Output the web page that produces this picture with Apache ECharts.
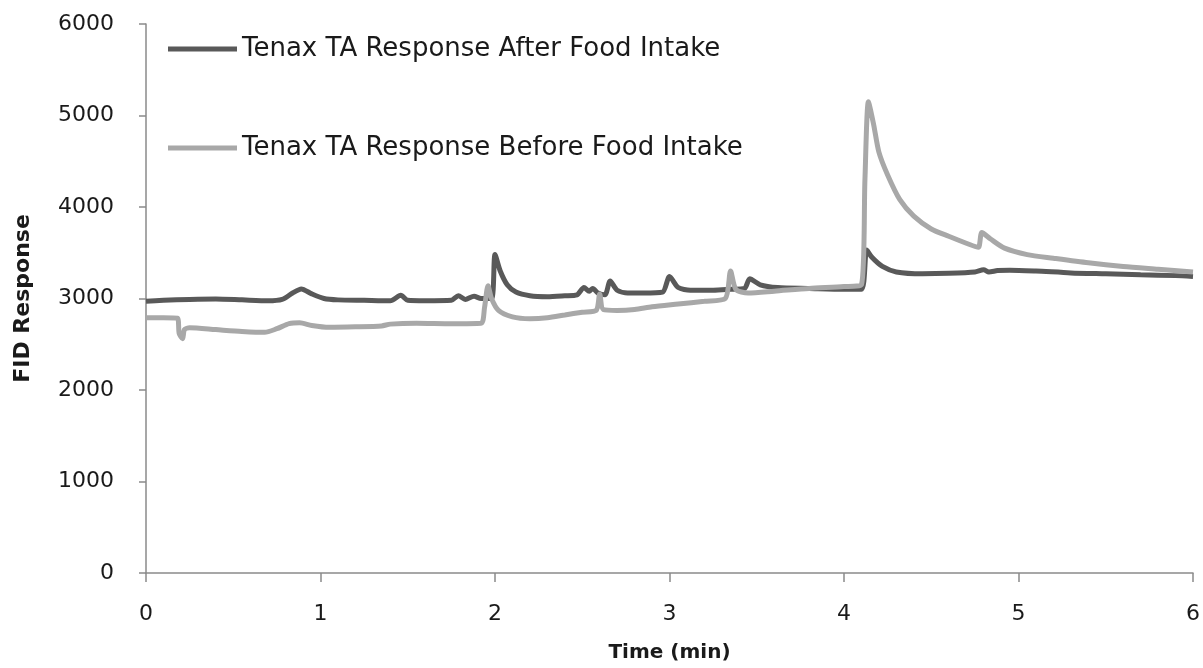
<!DOCTYPE html>
<html>
<head>
<meta charset="utf-8">
<script src="https://cdn.jsdelivr.net/npm/echarts@6/dist/echarts.min.js"></script>
<style>
  html, body { margin: 0; padding: 0; background: #ffffff; }
  #chart { width: 1203px; height: 668px; }
</style>
</head>
<body>
<div id="chart"></div>
<script>
// FID response traces, [time (min), response]
const afterIntake = [
  [0.00, 2970], [0.10, 2980], [0.25, 2990], [0.40, 2995], [0.55, 2985],
  [0.70, 2975], [0.78, 2990], [0.84, 3060], [0.89, 3105], [0.95, 3050],
  [1.02, 3000], [1.10, 2985], [1.25, 2980], [1.40, 2975], [1.46, 3035],
  [1.50, 2980], [1.60, 2975], [1.75, 2980], [1.79, 3030], [1.83, 2990],
  [1.88, 3025], [1.92, 3000], [1.98, 3000], [2.00, 3480], [2.03, 3300],
  [2.07, 3150], [2.12, 3070], [2.20, 3030], [2.30, 3020], [2.40, 3030],
  [2.47, 3040], [2.51, 3120], [2.54, 3080], [2.56, 3110], [2.59, 3060],
  [2.63, 3040], [2.66, 3190], [2.70, 3090], [2.76, 3060], [2.85, 3060],
  [2.96, 3070], [3.00, 3240], [3.05, 3120], [3.12, 3090], [3.25, 3090],
  [3.35, 3100], [3.43, 3110], [3.46, 3215], [3.52, 3150], [3.62, 3120],
  [3.80, 3110], [4.00, 3100], [4.10, 3100], [4.13, 3530], [4.16, 3450],
  [4.22, 3350], [4.30, 3290], [4.45, 3270], [4.60, 3275], [4.75, 3290],
  [4.80, 3315], [4.83, 3290], [4.88, 3305], [4.95, 3310], [5.10, 3300],
  [5.30, 3280], [5.50, 3270], [5.70, 3260], [5.90, 3250], [6.00, 3240]
];

const beforeIntake = [
  [0.00, 2790], [0.10, 2790], [0.18, 2785], [0.19, 2620], [0.21, 2560],
  [0.22, 2660], [0.25, 2680], [0.40, 2660], [0.55, 2640], [0.68, 2630],
  [0.75, 2670], [0.82, 2725], [0.88, 2735], [0.95, 2705], [1.05, 2685],
  [1.20, 2690], [1.35, 2700], [1.40, 2720], [1.55, 2730], [1.75, 2725],
  [1.92, 2730], [1.94, 2900], [1.96, 3140], [1.98, 3000], [2.02, 2870],
  [2.10, 2800], [2.20, 2780], [2.30, 2790], [2.40, 2820], [2.50, 2850],
  [2.58, 2870], [2.60, 3050], [2.62, 2880], [2.70, 2870], [2.80, 2880],
  [2.90, 2910], [3.05, 2940], [3.20, 2970], [3.32, 3000], [3.35, 3300],
  [3.38, 3100], [3.45, 3060], [3.60, 3080], [3.80, 3110], [4.00, 3130],
  [4.10, 3150], [4.12, 4300], [4.14, 5150], [4.17, 4900], [4.20, 4600],
  [4.25, 4350], [4.32, 4080], [4.40, 3900], [4.50, 3760], [4.60, 3680],
  [4.72, 3590], [4.77, 3560], [4.79, 3720], [4.84, 3650], [4.92, 3550],
  [5.05, 3480], [5.20, 3440], [5.40, 3390], [5.60, 3350], [5.80, 3320],
  [6.00, 3290]
];

const seriesNames = [
  'Tenax TA Response After Food Intake',
  'Tenax TA Response Before Food Intake'
];
const seriesColors = ['#595959', '#a8a8a8'];

const fontFamily = '"DejaVu Sans", Verdana, sans-serif';
const axisColor = '#8a8a8a';

const chart = echarts.init(document.getElementById('chart'), null, { renderer: 'canvas' });

function legendAt(name, top) {
  return {
    data: [name],
    left: 168,
    top: top,
    padding: 0,
    icon: 'rect',
    itemWidth: 69,
    itemHeight: 5,
    selectedMode: false,
    textStyle: { fontFamily: fontFamily, fontSize: 26, color: '#1a1a1a' }
  };
}

chart.setOption({
  animation: false,
  backgroundColor: '#ffffff',
  color: seriesColors,
  grid: { left: 146, right: 6, top: 24, bottom: 94, containLabel: false },
  legend: [legendAt(seriesNames[0], 36), legendAt(seriesNames[1], 135)],
  xAxis: {
    type: 'value',
    min: 0,
    max: 6,
    interval: 1,
    name: 'Time (min)',
    nameLocation: 'middle',
    nameGap: 70,
    nameTextStyle: { fontFamily: fontFamily, fontSize: 20, fontWeight: 'bold', color: '#1a1a1a' },
    axisLine: { show: true, lineStyle: { color: axisColor, width: 1.5 } },
    axisTick: { show: true, length: 9, lineStyle: { color: axisColor, width: 1.5 } },
    axisLabel: { margin: 30, fontFamily: fontFamily, fontSize: 22, color: '#1a1a1a' },
    splitLine: { show: false }
  },
  yAxis: {
    type: 'value',
    min: 0,
    max: 6000,
    interval: 1000,
    name: 'FID Response',
    nameLocation: 'middle',
    nameGap: 112,
    nameTextStyle: { fontFamily: fontFamily, fontSize: 22, fontWeight: 'bold', color: '#1a1a1a' },
    axisLine: { show: true, lineStyle: { color: axisColor, width: 1.5 } },
    axisTick: { show: true, length: 7, lineStyle: { color: axisColor, width: 1.5 } },
    axisLabel: {
      margin: 32,
      fontFamily: fontFamily,
      fontSize: 22,
      color: '#1a1a1a',
      formatter: (v) => String(v)
    },
    splitLine: { show: false }
  },
  series: [
    {
      name: seriesNames[0],
      type: 'line',
      data: afterIntake,
      showSymbol: false,
      symbol: 'none',
      smooth: 0.25,
      lineStyle: { width: 5, color: seriesColors[0] },
      z: 2
    },
    {
      name: seriesNames[1],
      type: 'line',
      data: beforeIntake,
      showSymbol: false,
      symbol: 'none',
      smooth: 0.25,
      lineStyle: { width: 5, color: seriesColors[1] },
      z: 3
    }
  ]
});
</script>
</body>
</html>
